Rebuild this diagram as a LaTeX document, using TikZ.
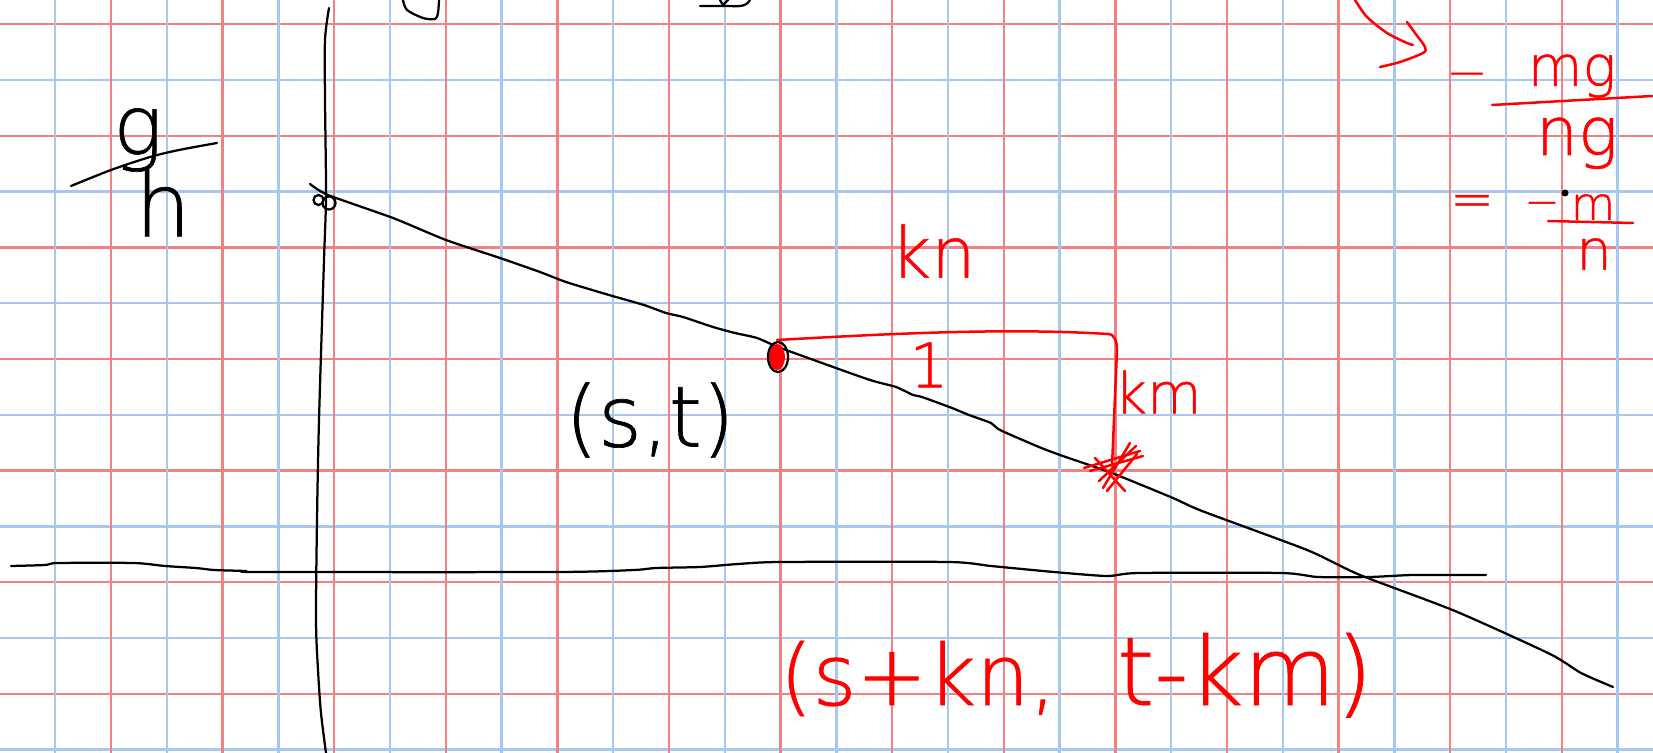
\documentclass[tikz,border=0pt]{standalone}
\usepackage{fontspec}
\newfontfamily\handfont{DejaVu Sans ExtraLight}[AutoFakeBold=0.8]
\definecolor{gridred}{RGB}{241,130,130}
\definecolor{gridblue}{RGB}{166,199,238}

\begin{document}
\begin{tikzpicture}[x=0.02cm, y=-0.02cm,
        bluerule/.style={draw=gridblue, line width=0.047cm},
        redrule/.style={draw=gridred, line width=0.047cm},
        ink/.style={draw=black, line width=0.045cm, line cap=round, line join=round},
        redink/.style={draw=red, line width=0.05cm, line cap=round, line join=round},
        hand/.style={inner sep=0pt, font=\handfont\bfseries\fontsize{#1}{#1}\selectfont}
    ]
        \fill[white] (0,0) rectangle (1653,753);
        \useasboundingbox (0,0) rectangle (1653,753);
        % Grid
        \foreach \i in {0,...,6} {
            \draw[redrule] (0,{24.2+111.6*\i}) -- (1653,{24.2+111.6*\i});
            \draw[bluerule] (0,{80+111.6*\i}) -- (1653,{80+111.6*\i});
        }
        \foreach \i in {0,...,14}
            \draw[bluerule] ({55.2+111.6*\i},0) -- ({55.2+111.6*\i},753);
        \foreach \i in {0,...,13}
            \draw[redrule] ({111+111.6*\i},0) -- ({111+111.6*\i},753);

        % Axes and line
        \draw[ink] plot[smooth] coordinates {(329,8) (325,40) (325,100) (326,195) (324,260) (319,420) (317,520) (316,620) (318,670) (321,713) (326,753)};
        \draw[ink] plot[smooth, tension=0.4] coordinates {(11,566) (45,565) (58,563) (134,563) (165,566) (196,568) (214,570) (246,571) (259,572) (558,572) (634,570) (656,568) (700,567) (738,564) (780,562) (949,562) (991,566) (1054,572) (1107,576) (1139,573) (1281,573) (1318,577) (1370,577) (1413,575) (1486,575)};
        \draw[ink] plot[smooth, tension=0.4] coordinates {(310,184) (328,195) (393,218) (446,240) (500,258) (540,272) (566,282) (609,295) (644,305) (666,313) (683,317) (713,327) (735,333) (757,338) (778,347) (822,363) (870,380) (896,387) (913,395) (922,397) (952,408) (969,415) (991,423) (1000,430) (1039,447) (1060,455) (1095,467) (1117,475) (1173,498) (1202,511) (1307,550) (1360,575) (1455,611) (1550,654) (1581,673) (1613,687)};
        \draw[ink] (318.5,200) circle (5);
        \draw[ink] (329,203) circle (6.5);
        \coordinate (origin) at (326,195);

        % Slope g/h
        \node[hand=47] (gnum) at (138,140) {g};
        \node[hand=50] (hden) at (163,203) {h};
        \draw[ink] plot[smooth] coordinates {(71,186) (111,170) (150,157) (179,150) (217,143)};

        % Cut off at the top edge
        \draw[ink] plot[smooth] coordinates {(403,0) (407,10) (423,18) (435,19) (438,13) (439,0)};
        \draw[ink] (700,6) -- (727,6) to[out=0,in=-120] (750,0);
        \draw[ink] (720,0) -- (723,5) -- (728,0);
        \draw[redink] plot[smooth] coordinates {(1355,0) (1367,17) (1387,33) (1407,43) (1413,45)};
        \draw[redink] plot[smooth] coordinates {(1407,22) (1415,33) (1425,47) (1423,53) (1400,62) (1380,67)};

        % Points
        \coordinate (stpt) at (777,340);
        \coordinate (star) at (1112,466);
        \fill[red] (777,357) ellipse [x radius=8, y radius=13];
        \draw[ink] (778,357) ellipse [x radius=10, y radius=15];
        \draw[redink] (stpt) .. controls (900,333) and (1010,328) .. (1108,334) to[out=0,in=90] (1117,350) -- (star);
        \foreach \ax/\ay/\bx/\by in {-28/2/28/-15, -13/15/24/-20, -17/-8/13/25, -22/5/31/-10, -9/22/18/-23, -5/25/25/-12}
            \draw[redink] (star) ++(\ax,\ay) -- ++({\bx-\ax},{\by-\ay});

        % Labels
        \node[hand=48] (st) at (650,420) {(s,t)};
        \node[hand=40, text=red] (kn) at (933,251) {kn};
        \node[hand=35, text=red] (one) at (929,365) {1};
        \node[hand=32, text=red] (km) at (1158,392) {km};
        \node[hand=48, text=red, anchor=base] (newpt) at (918,705) {(s+kn,};
        \node[hand=54, text=red, anchor=base] (newptb) at (1245,705) {t-km)};

        % Slope -m/n
        \node[hand=28, text=red] (minus) at (1467,81) {−};
        \node[hand=32, text=red, anchor=base] (mg) at (1572,86) {mg};
        \draw[redink] (1492,105) -- (1652,96);
        \node[hand=38, text=red, anchor=base] (ng) at (1577,155) {ng};
        \node[hand=30, text=red] (eq) at (1472,206) {=};
        \node[hand=24, text=red] (minusb) at (1542,209) {−};
        \fill (1565,193) circle (3.5);
        \node[hand=26, text=red] (mnum) at (1593,207) {m};
        \draw[redink] (1548,221) -- (1633,223);
        \node[hand=32, text=red] (nden) at (1594,254) {n};
    \end{tikzpicture}
\end{document}
